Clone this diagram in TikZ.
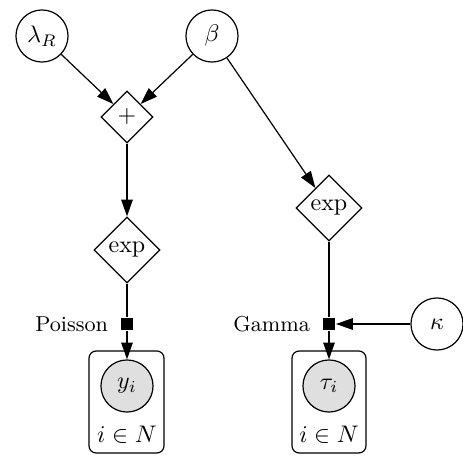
\documentclass[tikz,border=0pt]{standalone}
\usetikzlibrary{shapes.geometric,arrows.meta}
\begin{document}
\begin{tikzpicture}[x=0.41667pt,y=-0.41667pt,
  var/.style={circle,draw,line width=0.5pt,minimum size=21.7pt,inner sep=0pt},
  obs/.style={var,fill=gray!25},
  det/.style={diamond,draw,line width=0.5pt,inner sep=0pt},
  fac/.style={rectangle,fill=black,minimum size=5.4pt,inner sep=0pt},
  plate/.style={draw,line width=0.5pt,rounded corners=3pt},
  edge/.style={line width=0.5pt,-{Triangle[length=7pt,width=4.8pt]}},
  link/.style={line width=0.5pt}]
\useasboundingbox (0,0) rectangle (463,456);
\node[var] (lam) at (42,36) {$\lambda_R$};
\node[var] (beta) at (212,36) {$\beta$};
\node[det,minimum size=21.7pt] (plus) at (127,117) {$+$};
\node[det,minimum size=27.5pt] (exp1) at (127,250) {$\exp$};
\node[det,minimum size=27.5pt] (exp2) at (329,208) {$\exp$};
\node[fac,label={[font=\small,label distance=1.5pt]left:Poisson}] (f1) at (127,324) {};
\node[fac,label={[font=\small,label distance=1.5pt]left:Gamma}] (f2) at (329,324) {};
\node[var] (kappa) at (437,324) {$\kappa$};
\node[obs] (y) at (127,386) {$y_i$};
\node[obs] (tau) at (329,386) {$\tau_i$};
\draw[plate] (89,351) rectangle (164,453);
\draw[plate] (292,351) rectangle (366,453);
\node (n1) at (127,435) {$i\in N$};
\node (n2) at (329,435) {$i\in N$};
\draw[edge] (lam) -- (plus);
\draw[edge] (beta) -- (plus);
\draw[edge] (beta) -- (exp2);
\draw[edge] (plus) -- (exp1);
\draw[link] (exp1) -- (f1);
\draw[edge] (f1) -- (y);
\draw[link] (exp2) -- (f2);
\draw[edge] (kappa) -- (f2);
\draw[edge] (f2) -- (tau);
\end{tikzpicture}
\end{document}
